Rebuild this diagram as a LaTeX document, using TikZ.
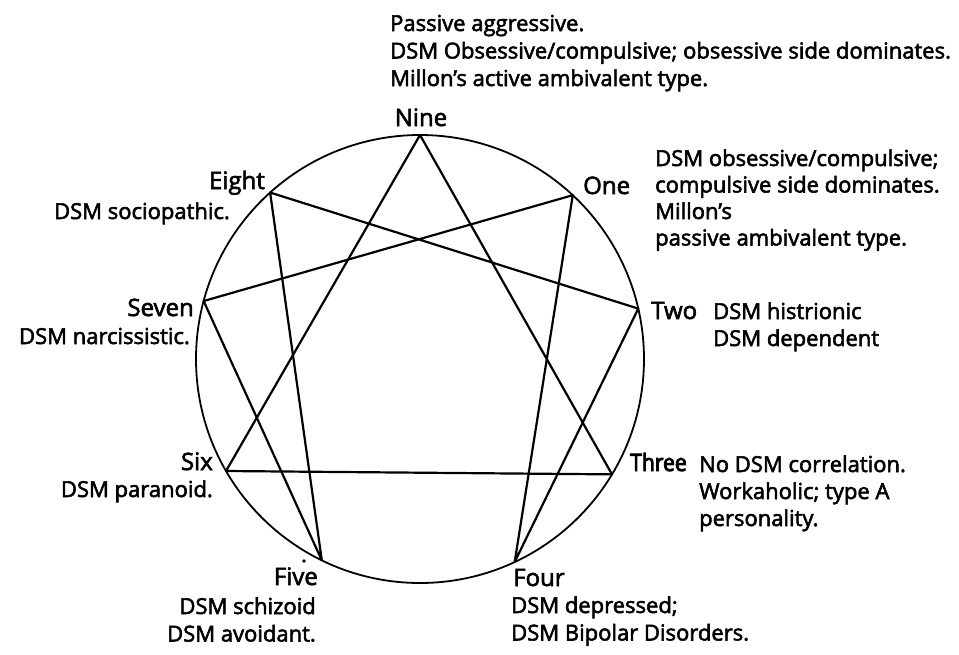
\documentclass[tikz,border=0pt]{standalone}
\usepackage{fontspec}
\setmainfont{Open Sans}[FakeBold=2.5]
\newfontfamily\narrowlbl{Open Sans}[FakeBold=3.5, FakeStretch=0.88]
\begin{document}
\begin{tikzpicture}[x=1pt,y=-1pt,
  desc/.style={font=\fontsize{22}{27}\selectfont, inner sep=0pt},
  lbl/.style={font=\fontsize{24}{28}\selectfont, inner sep=0pt},
  ring/.style={line width=1.8pt},
  chord/.style={line width=2.2pt, line join=round, line cap=round}]
\useasboundingbox (0,0) rectangle (959,654);
% ring
\draw[ring] (420,359) circle[radius=224];
% points on the ring (angle measured clockwise from the top)
\foreach \n/\a in {9/0,1/43,2/77,3/121,4/155,5/206,6/240,7/285,8/318}
  \coordinate (p\n) at ({420+224*sin(\a)},{359-224*cos(\a)});
% triangle and hexad
\draw[chord] (p9) -- (p3) -- (p6) -- cycle;
\draw[chord] (p1) -- (p4) -- (p2) -- (p8) -- (p5) -- (p7) -- cycle;
% stray dot over Five
\fill (304,561) circle[radius=1.8];
% point labels
\node[lbl, anchor=base] (l9) at (421,126) {Nine};
\node[lbl, anchor=base west] (l1) at (583,194) {One};
\node[lbl, anchor=base west] (l2) at (651,319) {Two};
\node[lbl, anchor=base west] (l3) at (630,471) {\narrowlbl Three};
\node[lbl, anchor=base west] (l4) at (513,586) {Four};
\node[lbl, anchor=base east] (l5) at (318,585) {Five};
\node[lbl, anchor=base east] (l6) at (213,470) {Six};
\node[lbl, anchor=base east] (l7) at (194,316) {Seven};
\node[lbl, anchor=base east] (l8) at (265,189) {Eight};
% descriptions, one node per line
\foreach \t [count=\i] in {{Passive aggressive.},{DSM Obsessive/compulsive; obsessive side dominates.},{Millon’s active ambivalent type.}}
  \node[desc, anchor=base west] (d9-\i) at (390,{31+27.5*(\i-1)}) {\t};
\foreach \t [count=\i] in {{DSM obsessive/compulsive;},{compulsive side dominates.},{Millon’s},{passive ambivalent type.}}
  \node[desc, anchor=base west] (d1-\i) at (655,{166+26.5*(\i-1)}) {\t};
\foreach \t [count=\i] in {{DSM histrionic},{DSM dependent}}
  \node[desc, anchor=base west] (d2-\i) at (713,{319+27*(\i-1)}) {\t};
\foreach \t [count=\i] in {{No DSM correlation.},{Workaholic; type A},{personality.}}
  \node[desc, anchor=base west] (d3-\i) at (699,{472+27*(\i-1)}) {\t};
\foreach \t [count=\i] in {{DSM depressed;},{DSM Bipolar Disorders.}}
  \node[desc, anchor=base west] (d4-\i) at (511,{613+27.5*(\i-1)}) {\t};
\foreach \t [count=\i] in {{DSM schizoid},{DSM avoidant.}}
  \node[desc, anchor=base east] (d5-\i) at (316,{614+27.5*(\i-1)}) {\t};
\node[desc, anchor=base east] (d6) at (213,497) {DSM paranoid.};
\node[desc, anchor=base east] (d7) at (190,344) {DSM narcissistic.};
\node[desc, anchor=base east] (d8) at (230,219) {DSM sociopathic.};
\end{tikzpicture}
\end{document}
